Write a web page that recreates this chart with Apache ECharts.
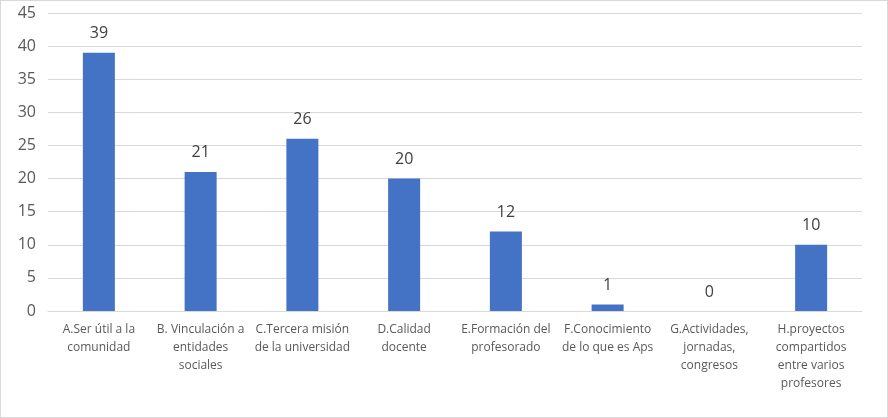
<!DOCTYPE html>
<html><head><meta charset="utf-8">
<script src="https://cdn.jsdelivr.net/npm/echarts@6/dist/echarts.min.js"></script>
<style>
html,body{margin:0;padding:0;background:#fff;}
#c{width:886px;height:416px;border:1px solid #d9d9d9;}
</style></head>
<body><div id="c"></div>
<script>
const categories = [
  "A.Ser útil a la\ncomunidad",
  "B. Vinculación a\nentidades\nsociales",
  "C.Tercera misión\nde la universidad",
  "D.Calidad\ndocente",
  "E.Formación del\nprofesorado",
  "F.Conocimiento\nde lo que es Aps",
  "G.Actividades,\njornadas,\ncongresos",
  "H.proyectos\ncompartidos\nentre varios\nprofesores"
];
const values = [39, 21, 26, 20, 12, 1, 0, 10];
const yTicks = {min: 0, max: 45, interval: 5};

const chart = echarts.init(document.getElementById('c'));
chart.setOption({
  animation: false,
  grid: {left: 47, right: 25, top: 12, bottom: 106},
  xAxis: {
    type: 'category', data: categories,
    axisLine: {lineStyle: {color: '#d9d9d9'}},
    axisTick: {show: false},
    axisLabel: {color: '#595959', fontSize: 12, fontFamily: 'Open Sans, sans-serif', lineHeight: 18, interval: 0, margin: 10}
  },
  yAxis: {
    type: 'value', min: yTicks.min, max: yTicks.max, interval: yTicks.interval,
    axisLine: {show: false}, axisTick: {show: false},
    splitLine: {lineStyle: {color: '#d9d9d9'}},
    axisLabel: {color: '#595959', fontSize: 16, fontFamily: 'Open Sans, sans-serif', margin: 12}
  },
  series: [{
    type: 'bar', data: values, barWidth: 32,
    itemStyle: {color: '#4472c4'},
    label: {show: true, position: 'top', distance: 11, color: '#404040', fontSize: 16, fontFamily: 'Open Sans, sans-serif'}
  }]
});
</script></body></html>
